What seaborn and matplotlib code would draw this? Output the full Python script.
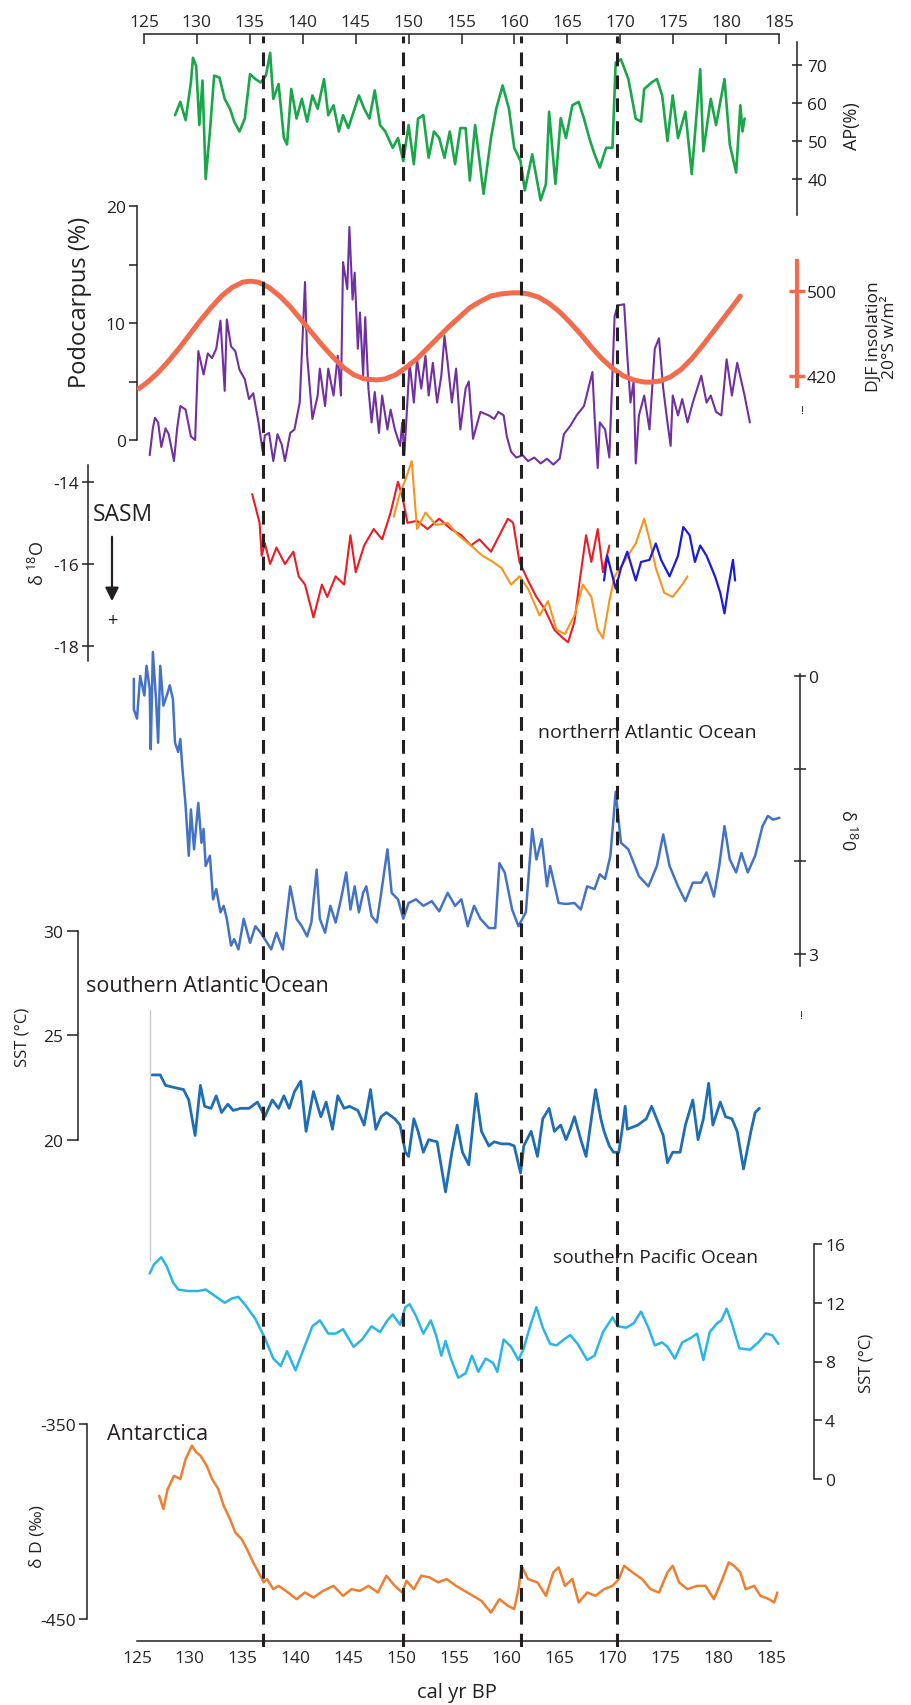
import matplotlib
matplotlib.use("Agg")
import matplotlib.pyplot as plt
import seaborn as sns

# ---- data (age in ka, "cal yr BP" axis) ----
events = [136.9, 150.2, 161.3, 170.4]

ap_green = [(128.6, 56.8), (129.1, 60.3), (129.6, 55.5), (130.1, 65.4), (130.3, 71.9), (130.6, 69.7),
            (130.9, 54.2), (131.2, 65.9), (131.5, 40.0), (131.9, 52.5), (132.3, 67.2), (132.8, 66.7),
            (133.3, 61.1), (133.8, 58.5), (134.2, 55.1), (134.7, 52.5), (135.2, 55.9), (135.7, 67.6),
            (136.2, 66.3), (136.7, 65.4), (137.2, 67.2), (137.6, 73.2), (137.9, 61.1), (138.4, 65.0),
            (138.9, 50.8), (139.2, 49.1), (139.6, 63.7), (140.1, 55.9), (140.6, 61.1), (141.1, 55.1),
            (141.6, 62.0), (142.1, 58.5), (142.7, 66.3), (143.1, 56.8), (143.6, 59.4), (144.1, 52.5),
            (144.5, 56.8), (145.0, 53.4), (145.5, 57.7), (146.0, 62.0), (146.5, 58.5), (147.0, 55.9),
            (147.5, 63.3), (148.0, 54.2), (148.5, 52.5), (149.2, 48.2), (149.7, 50.8), (150.2, 44.7),
            (150.7, 54.2), (151.2, 43.9), (151.6, 55.9), (152.1, 56.8), (152.6, 45.6), (153.1, 52.5),
            (153.6, 50.8), (154.1, 45.6), (154.6, 52.5), (155.1, 43.9), (155.6, 53.4), (156.1, 53.4),
            (156.5, 39.6), (157.0, 54.2), (157.8, 36.1), (158.5, 50.8), (159.0, 58.5), (159.6, 64.6),
            (160.2, 58.5), (160.7, 48.2), (161.3, 44.7), (161.7, 37.0), (162.4, 46.5), (163.2, 34.4),
            (163.7, 38.7), (164.0, 57.7), (164.6, 38.7), (165.1, 56.0), (165.6, 50.8), (166.2, 59.4),
            (166.8, 60.3), (167.3, 55.9), (167.8, 50.8), (168.3, 46.5), (168.8, 43.0), (169.4, 48.2),
            (170.0, 48.2), (170.3, 70.6), (170.8, 71.5), (171.5, 66.3), (172.2, 55.9), (172.7, 55.1),
            (173.0, 63.7), (173.7, 65.4), (174.2, 66.3), (174.7, 62.0), (175.2, 50.0), (175.7, 62.0),
            (176.2, 50.8), (176.9, 57.7), (177.5, 41.3), (178.3, 68.9), (178.6, 47.3), (179.3, 61.1),
            (179.8, 54.2), (180.6, 66.3), (181.1, 49.1), (181.7, 41.7), (182.1, 59.4), (182.3, 52.5),
            (182.5, 55.9)]

podocarpus = [(126.2, -1.3), (126.5, 1.0), (126.7, 1.9), (127.0, 1.5), (127.3, -0.6), (127.7, 1.0),
              (128.0, 0.5), (128.5, -1.8), (128.8, 1.0), (129.1, 2.9), (129.6, 2.6), (130.1, 0.3),
              (130.5, 0.0), (130.8, 7.6), (131.3, 5.6), (131.7, 7.4), (132.1, 7.0), (132.5, 7.8),
              (132.9, 10.2), (133.3, 4.2), (133.5, 10.3), (133.9, 8.0), (134.3, 7.6), (134.7, 6.0),
              (135.2, 5.2), (135.6, 3.5), (136.0, 4.0), (136.5, 1.5), (136.9, -1.0), (137.1, 0.4),
              (137.5, 0.6), (137.9, -1.8), (138.3, 0.5), (138.7, -0.4), (139.0, -1.8), (139.5, 0.6),
              (139.9, 0.9), (140.4, 3.2), (140.9, 13.5), (141.1, 7.2), (141.6, 1.8), (142.1, 3.8),
              (142.3, 6.1), (142.8, 2.9), (143.1, 6.1), (143.6, 3.8), (144.0, 7.2), (144.3, 3.8),
              (144.5, 15.2), (144.9, 12.9), (145.1, 18.2), (145.4, 12.0), (145.6, 14.3), (145.9, 7.8),
              (146.1, 10.9), (146.4, 5.5), (146.6, 10.5), (146.9, 4.4), (147.2, 1.5), (147.5, 4.1),
              (147.9, 0.6), (148.2, 3.8), (148.7, 0.9), (149.0, 2.6), (149.4, 0.9), (149.9, -0.5),
              (150.1, 1.5), (150.3, -1.3), (150.8, 6.6), (151.2, 3.2), (151.5, 6.9), (151.9, 4.4),
              (152.3, 7.2), (152.6, 3.8), (153.0, 6.6), (153.4, 3.2), (153.8, 5.5), (154.1, 8.9),
              (154.4, 6.6), (154.8, 3.2), (155.2, 6.1), (155.6, 0.9), (156.1, 4.4), (156.4, 5.0),
              (156.8, 0.1), (157.5, 2.4), (158.3, 2.1), (158.8, 1.8), (159.2, 2.4), (159.7, 2.1),
              (160.0, 0.3), (160.4, -1.0), (160.9, -1.5), (161.5, -1.3), (162.0, -1.8), (162.6, -1.5),
              (163.2, -2.0), (163.8, -1.6), (164.4, -2.1), (165.0, -1.6), (165.4, 0.5), (166.0, 1.2),
              (166.6, 2.1), (167.3, 2.9), (168.1, 5.8), (168.3, 2.1), (168.6, -2.4), (168.8, 1.5),
              (169.3, 0.9), (169.7, -1.5), (170.2, 10.6), (170.5, 11.5), (171.1, 11.6), (171.4, 7.2),
              (171.7, 3.2), (172.0, 5.0), (172.2, -2.0), (172.5, 2.1), (173.0, 3.8), (173.5, 0.9),
              (174.0, 7.8), (174.4, 8.7), (174.8, 4.4), (175.2, 1.5), (175.5, -0.5), (175.7, 3.8),
              (176.2, 2.1), (176.6, 3.5), (177.1, 1.5), (177.6, 3.2), (178.4, 5.5), (178.9, 3.2),
              (179.3, 3.8), (179.8, 2.4), (180.3, 2.1), (180.8, 6.9), (181.3, 3.8), (181.8, 6.6),
              (182.5, 3.8), (183.0, 1.5)]

insolation = [(125.2, 408), (126.0, 414), (127.0, 423), (128.0, 434), (129.0, 446), (130.0, 459),
              (131.0, 472), (132.0, 484), (133.0, 495), (134.0, 503), (135.0, 508), (135.7, 509),
              (136.5, 508), (137.5, 503), (138.5, 495), (139.5, 485), (140.5, 473), (141.5, 461),
              (142.5, 449), (143.5, 438), (144.5, 428), (145.5, 421), (146.5, 417), (147.7, 416),
              (148.5, 417), (149.5, 421), (150.5, 428), (151.5, 436), (152.5, 446), (153.5, 456),
              (154.5, 466), (155.5, 475), (156.5, 484), (157.5, 490), (158.5, 495), (159.5, 497),
              (160.5, 498), (161.3, 498), (162.0, 497), (163.0, 494), (164.0, 488), (165.0, 480),
              (166.0, 470), (167.0, 459), (168.0, 447), (169.0, 436), (170.0, 427), (171.0, 420),
              (172.0, 416), (173.0, 414), (173.5, 414), (174.5, 415), (175.5, 419), (176.5, 426),
              (177.5, 436), (178.5, 448), (179.5, 461), (180.5, 474), (181.5, 487), (182.1, 495)]

sasm_red = [(135.9, -14.3), (136.6, -15.0), (136.8, -15.8), (137.1, -15.5), (137.6, -16.0), (138.2, -15.6),
            (139.0, -16.0), (139.8, -15.7), (140.3, -16.3), (140.9, -16.5), (141.7, -17.3), (142.5, -16.5),
            (143.0, -16.8), (143.8, -16.3), (144.6, -16.5), (145.2, -15.3), (145.7, -16.2), (146.5, -15.55),
            (147.4, -15.15), (148.2, -15.4), (149.0, -14.75), (149.7, -14.0), (150.1, -14.35), (150.6, -15.0),
            (151.5, -14.95), (152.5, -15.15), (153.6, -14.9), (154.7, -15.15), (155.7, -15.3), (156.6, -15.55),
            (157.4, -15.4), (158.5, -15.7), (159.5, -15.2), (160.1, -14.9), (160.6, -15.0), (161.2, -15.95),
            (162.0, -16.4), (162.8, -16.8), (163.6, -17.1), (164.5, -17.6), (165.3, -17.8), (165.8, -17.9),
            (166.4, -17.4), (166.9, -16.4), (167.5, -15.3), (168.0, -15.95), (168.6, -15.15), (169.1, -16.2),
            (169.7, -15.55)]

sasm_orange = [(149.3, -14.85), (149.8, -14.35), (150.4, -13.95), (151.0, -13.5), (151.5, -15.15),
               (152.3, -14.75), (153.3, -15.05), (154.4, -15.0), (155.4, -15.3), (156.6, -15.55),
               (157.7, -15.8), (158.7, -15.95), (159.5, -16.1), (160.4, -16.5), (161.2, -16.3),
               (162.0, -16.6), (163.1, -17.25), (163.9, -16.9), (164.7, -17.6), (165.5, -17.7),
               (166.4, -17.25), (167.2, -16.5), (168.0, -16.8), (168.6, -17.6), (169.1, -17.8),
               (169.7, -16.9), (170.2, -16.3), (171.1, -15.95), (172.2, -15.5), (173.0, -14.9),
               (173.5, -15.4), (174.1, -16.1), (174.9, -16.7), (175.7, -16.8), (176.6, -16.5),
               (177.1, -16.3)]

sasm_blue = [(169.2, -16.4), (169.5, -15.8), (170.3, -16.6), (170.8, -16.1), (171.4, -15.7), (172.2, -16.4),
             (172.7, -15.95), (173.5, -15.9), (174.1, -15.5), (174.6, -15.9), (175.4, -16.3), (176.2, -15.8),
             (176.7, -15.1), (177.3, -15.3), (177.8, -15.95), (178.3, -15.55), (178.9, -15.8), (179.7, -16.3),
             (180.2, -16.7), (180.6, -17.2), (181.0, -16.5), (181.4, -15.9), (181.6, -16.4)]

north_atlantic = [(124.7, 0.03), (124.7, 0.36), (125.0, 0.46), (125.3, 0.0), (125.7, 0.21), (125.9, -0.11),
                  (126.2, 0.14), (126.3, 0.79), (126.5, -0.26), (126.8, 0.25), (127.0, 0.72), (127.2, -0.11),
                  (127.5, 0.32), (127.9, 0.18), (128.1, 0.1), (128.4, 0.25), (128.6, 0.72), (128.9, 0.82),
                  (129.1, 0.68), (129.3, 1.0), (129.6, 1.4), (129.9, 1.94), (130.1, 1.44), (130.4, 1.87),
                  (130.8, 1.37), (131.1, 1.8), (131.3, 1.65), (131.5, 2.05), (131.9, 1.94), (132.2, 2.41),
                  (132.5, 2.3), (132.9, 2.55), (133.2, 2.48), (133.5, 2.62), (133.9, 2.91), (134.2, 2.84),
                  (134.6, 2.95), (135.1, 2.62), (135.7, 2.88), (136.2, 2.7), (136.7, 2.77), (137.1, 2.84),
                  (137.7, 2.95), (138.2, 2.77), (138.8, 2.95), (139.5, 2.27), (140.1, 2.62), (140.6, 2.7),
                  (141.1, 2.81), (141.5, 2.66), (142.0, 2.09), (142.3, 2.62), (142.8, 2.77), (143.3, 2.48),
                  (143.8, 2.66), (144.3, 2.41), (144.8, 2.12), (145.2, 2.52), (145.6, 2.27), (146.0, 2.55),
                  (146.4, 2.34), (146.7, 2.27), (147.2, 2.59), (147.7, 2.66), (148.2, 2.27), (148.7, 1.87),
                  (149.1, 2.34), (149.7, 2.41), (150.2, 2.62), (150.7, 2.45), (151.4, 2.41), (152.1, 2.48),
                  (152.9, 2.43), (153.6, 2.54), (154.4, 2.34), (155.1, 2.48), (155.7, 2.41), (156.3, 2.7),
                  (156.9, 2.48), (157.5, 2.62), (158.3, 2.72), (158.9, 2.72), (159.3, 2.02), (159.8, 2.12),
                  (160.5, 2.52), (161.1, 2.7), (161.8, 2.55), (162.4, 1.65), (162.8, 1.98), (163.3, 1.76),
                  (163.8, 2.27), (164.1, 2.05), (164.9, 2.45), (165.6, 2.46), (166.4, 2.45), (167.0, 2.52),
                  (167.6, 2.27), (168.3, 2.3), (168.8, 2.14), (169.3, 2.19), (169.8, 1.94), (170.3, 1.25),
                  (170.8, 1.8), (171.5, 1.87), (172.5, 2.16), (173.4, 2.27), (174.2, 2.05), (174.8, 1.71),
                  (175.4, 2.05), (176.2, 2.27), (176.9, 2.43), (177.6, 2.23), (178.4, 2.23), (178.9, 2.12),
                  (179.6, 2.38), (180.1, 2.05), (180.6, 1.62), (181.1, 1.98), (181.7, 2.12), (182.2, 1.91),
                  (182.8, 2.12), (183.5, 1.94), (184.2, 1.62), (184.7, 1.51), (185.2, 1.55), (185.8, 1.53)]

south_atlantic = [(126.4, 23.1), (127.2, 23.1), (127.7, 22.6), (128.5, 22.5), (129.4, 22.4), (129.9, 21.9),
                  (130.5, 20.2), (131.0, 22.6), (131.4, 21.6), (132.0, 21.5), (132.5, 22.1), (133.0, 21.3),
                  (133.6, 21.7), (134.1, 21.4), (134.8, 21.5), (135.6, 21.5), (136.4, 21.8), (137.1, 21.1),
                  (137.8, 21.9), (138.4, 21.5), (138.9, 22.1), (139.4, 21.5), (139.9, 22.3), (140.5, 22.8),
                  (141.0, 20.4), (141.7, 22.3), (142.4, 21.1), (142.9, 21.8), (143.5, 20.5), (144.0, 22.1),
                  (144.6, 21.5), (145.1, 21.6), (145.9, 21.4), (146.5, 20.7), (147.1, 22.4), (147.6, 20.5),
                  (148.1, 21.1), (148.6, 21.3), (149.4, 21.0), (149.9, 20.7), (150.4, 19.4), (150.7, 19.2),
                  (151.2, 21.0), (151.6, 20.4), (152.1, 19.4), (152.6, 20.0), (153.4, 19.9), (154.2, 17.5),
                  (154.8, 19.4), (155.3, 20.7), (155.8, 19.4), (156.4, 18.8), (157.1, 22.2), (157.6, 20.4),
                  (158.3, 19.7), (158.8, 19.9), (159.5, 19.8), (160.2, 19.8), (160.7, 19.7), (161.3, 18.4),
                  (161.6, 19.7), (162.3, 20.4), (162.9, 19.2), (163.4, 21.0), (164.0, 21.5), (164.5, 20.4),
                  (165.1, 20.7), (165.6, 20.0), (166.0, 20.5), (166.4, 21.1), (167.0, 20.0), (167.5, 19.2),
                  (168.0, 21.0), (168.4, 22.4), (168.9, 21.0), (169.2, 20.4), (169.7, 19.7), (170.1, 19.4),
                  (170.6, 19.4), (171.0, 20.8), (171.2, 21.6), (171.4, 20.5), (172.4, 20.7), (173.2, 21.0),
                  (173.7, 21.6), (174.1, 21.1), (174.8, 20.2), (175.2, 18.9), (175.7, 19.4), (176.4, 19.4),
                  (176.9, 20.7), (177.6, 21.9), (178.1, 20.0), (178.6, 21.0), (179.1, 22.7), (179.5, 20.7),
                  (180.2, 21.8), (180.7, 21.1), (181.3, 21.0), (181.8, 20.4), (182.4, 18.6), (183.1, 20.4),
                  (183.5, 21.3), (183.9, 21.5)]

south_pacific = [(126.2, 14.0), (126.6, 14.6), (127.3, 15.1), (127.8, 14.5), (128.4, 13.4), (128.9, 12.9),
                 (129.8, 12.8), (130.8, 12.8), (131.5, 12.9), (132.3, 12.5), (133.3, 12.0), (134.0, 12.3),
                 (134.6, 12.4), (135.3, 11.8), (136.2, 10.9), (137.1, 9.6), (137.9, 8.2), (138.6, 7.7),
                 (139.2, 8.7), (140.0, 7.4), (140.9, 9.1), (141.6, 10.4), (142.3, 10.8), (143.1, 9.9),
                 (143.8, 9.9), (144.5, 10.2), (145.5, 9.0), (146.3, 9.5), (147.2, 10.4), (148.0, 10.0),
                 (148.7, 10.8), (149.2, 11.2), (149.5, 10.9), (149.9, 10.5), (150.4, 11.7), (150.8, 11.9),
                 (151.4, 11.1), (152.1, 9.9), (152.8, 10.8), (153.3, 9.8), (153.8, 8.4), (154.2, 9.4),
                 (154.7, 8.2), (155.4, 6.9), (156.1, 7.2), (156.7, 8.4), (157.3, 7.3), (158.0, 8.2),
                 (158.7, 7.9), (159.1, 7.3), (159.7, 9.5), (160.4, 9.0), (161.1, 8.1), (161.6, 8.9),
                 (162.2, 10.4), (162.8, 11.7), (163.4, 10.3), (164.1, 9.2), (164.7, 9.1), (165.4, 9.5),
                 (166.0, 9.8), (166.7, 9.2), (167.6, 8.1), (168.3, 8.4), (169.1, 10.0), (170.0, 11.0),
                 (170.5, 10.4), (171.3, 10.3), (172.0, 10.6), (172.7, 11.4), (173.4, 10.3), (174.0, 9.1),
                 (174.7, 9.3), (175.2, 9.0), (175.9, 8.2), (176.6, 9.3), (177.4, 9.6), (178.0, 9.9),
                 (178.6, 8.1), (179.2, 10.0), (179.9, 10.6), (180.3, 10.8), (180.8, 11.6), (181.3, 10.6),
                 (182.0, 8.9), (183.0, 8.8), (183.8, 9.3), (184.5, 9.9), (185.1, 9.8), (185.7, 9.2)]

antarctica = [(127.1, -386.8), (127.5, -393.6), (127.9, -383.4), (128.5, -376.6), (129.1, -378.2),
              (129.6, -368.0), (130.2, -361.1), (130.6, -364.5), (131.0, -366.2), (131.6, -371.4),
              (132.1, -378.2), (132.7, -383.4), (133.2, -391.9), (133.8, -398.7), (134.3, -405.6),
              (134.9, -409.0), (135.4, -414.1), (136.0, -421.0), (136.5, -426.1), (137.0, -431.2),
              (137.3, -429.5), (137.9, -434.7), (138.4, -433.0), (139.3, -436.4), (140.1, -439.8),
              (140.9, -436.4), (141.7, -439.0), (142.6, -435.6), (143.6, -433.0), (144.5, -438.1),
              (145.3, -434.7), (146.1, -435.6), (146.9, -433.0), (147.8, -436.4), (148.6, -427.8),
              (149.4, -433.0), (150.1, -436.4), (150.5, -430.4), (151.2, -434.7), (151.9, -427.8),
              (152.7, -428.7), (153.5, -431.2), (154.3, -429.5), (155.2, -433.0), (156.0, -435.6),
              (156.8, -438.1), (157.6, -440.7), (158.5, -446.7), (159.3, -439.8), (160.1, -443.2),
              (160.7, -444.9), (161.1, -434.7), (161.4, -422.7), (162.0, -429.5), (162.9, -431.2),
              (163.7, -438.1), (164.4, -426.1), (164.9, -423.5), (165.5, -433.0), (166.2, -429.5),
              (166.8, -441.5), (167.6, -436.4), (168.4, -438.1), (169.2, -434.7), (170.0, -433.0),
              (170.6, -429.5), (171.1, -422.7), (171.9, -426.1), (172.8, -429.5), (173.6, -434.7),
              (174.4, -436.4), (175.2, -426.1), (175.7, -422.7), (176.3, -431.2), (177.1, -434.7),
              (178.0, -433.0), (178.8, -433.0), (179.6, -439.8), (180.4, -429.5), (181.0, -421.0),
              (181.5, -422.7), (182.1, -426.1), (182.6, -434.7), (183.4, -433.0), (184.0, -438.1),
              (184.8, -439.8), (185.3, -441.5), (185.6, -436.4)]

age_ticks = [125, 130, 135, 140, 145, 150, 155, 160, 165, 170, 175, 180, 185]

# ---- layout (pixels of the 912 x 1706 figure) ----
W, H = 912, 1706
X0, X1 = 137, 771          # pixel span of 125 .. 185
INK = '#231f20'
TICK_FS = 12.5

sns.set_style("white")
plt.rcParams['font.family'] = ['Open Sans', 'DejaVu Sans']
plt.rcParams['mathtext.fontset'] = 'custom'
plt.rcParams['mathtext.rm'] = 'Open Sans'
plt.rcParams['mathtext.it'] = 'Open Sans:italic'

fig = plt.figure(figsize=(W / 100, H / 100), dpi=100)


def panel(y_top, v_top, y_bot, v_bot):
    ax = fig.add_axes([X0 / W, 1 - y_bot / H, (X1 - X0) / W, (y_bot - y_top) / H])
    ax.patch.set_visible(False)
    for s in ax.spines.values():
        s.set_visible(False)
    ax._lims = (v_bot, v_top)
    return ax


def finish(ax):
    ax.set_xlim(125, 185)
    ax.set_ylim(*ax._lims)
    ax.set_xticks([])
    ax.set_xlabel('')
    ax.set_ylabel('')


def yaxis(ax, side, x_px, bounds, ticks, labels, direction, length, pad,
          color=INK, lw=1.1, twidth=1.1):
    sp = ax.spines[side]
    sp.set_visible(True)
    sp.set_position(('axes', (x_px - X0) / (X1 - X0)))
    sp.set_bounds(*bounds)
    sp.set_color(color)
    sp.set_linewidth(lw)
    ax.set_yticks(ticks, labels)
    left = side == 'left'
    ax.tick_params(axis='y', left=left, right=not left, labelleft=left, labelright=not left,
                   direction=direction, length=length, width=twidth, color=color,
                   pad=pad, labelsize=TICK_FS, labelcolor=INK)


def line(ax, data, color, lw):
    xs = [p[0] for p in data]
    ys = [p[1] for p in data]
    sns.lineplot(x=xs, y=ys, ax=ax, color=color, lw=lw, sort=False,
                 estimator=None, clip_on=False)


def ftext(x, y, s, **kw):
    kw.setdefault('color', INK)
    fig.text(x / W, 1 - y / H, s, **kw)


# AP (%)
ax_ap = panel(66, 70, 180, 40)
line(ax_ap, ap_green, '#1aa64a', 1.9)
finish(ax_ap)
yaxis(ax_ap, 'right', 797, (30.5, 76.0), [40, 50, 60, 70], ['40', '50', '60', '70'],
      'inout', 7, 4)

# Podocarpus + insolation
ax_po = panel(207, 20, 441, 0)
line(ax_po, podocarpus, '#7030a0', 1.5)
finish(ax_po)
yaxis(ax_po, 'left', 137, (0, 20), [0, 5, 10, 15, 20], ['0', '', '10', '', '20'], 'out', 6, 2)

ax_in = panel(207, 579.7, 441, 359.5)
line(ax_in, insolation, '#f26b4c', 3.6)
finish(ax_in)
yaxis(ax_in, 'right', 797, (410.3, 527.9), [420, 500], ['420', '500'], 'inout', 12, 1,
      color='#f26b4c', lw=3.0, twidth=2.5)

# SASM speleothem d18O
ax_sa = panel(482.7, -14, 647.3, -18)
line(ax_sa, sasm_red, '#ec1c24', 1.5)
line(ax_sa, sasm_orange, '#f7941d', 1.5)
line(ax_sa, sasm_blue, '#1c1cd6', 1.6)
finish(ax_sa)
yaxis(ax_sa, 'left', 87.7, (-18.35, -13.6), [-18, -16, -14], ['-18', '-16', '-14'],
      'inout', 8, 2)

# northern Atlantic d18O (inverted)
ax_na = panel(677, 0, 955, 3)
line(ax_na, north_atlantic, '#4472c4', 1.8)
finish(ax_na)
yaxis(ax_na, 'right', 800, (-0.02, 3.13), [0, 1, 2, 3], ['0', '', '', '3'], 'inout', 8, 2)

# southern Atlantic SST
ax_sat = panel(931.7, 30, 1140.7, 20)
line(ax_sat, south_atlantic, '#1f6eb5', 2.0)
ax_sat.axvline(126.2, ymin=-0.58, ymax=0.62, color='#c8c8c8', lw=1.0, clip_on=False)
finish(ax_sat)
yaxis(ax_sat, 'left', 78.5, (20, 30), [20, 25, 30], ['20', '25', '30'], 'out', 8, 3)

# southern Pacific SST
ax_sp = panel(1245, 16, 1480, 0)
line(ax_sp, south_pacific, '#29b6e6', 1.8)
finish(ax_sp)
yaxis(ax_sp, 'right', 814, (0, 16), [0, 4, 8, 12, 16], ['0', '4', '8', '12', '16'], 'out', 6, 2)

# Antarctica dD
ax_an = panel(1425, -350, 1620, -450)
line(ax_an, antarctica, '#f07e2e', 1.8)
finish(ax_an)
yaxis(ax_an, 'left', 87.2, (-450, -350), [-450, -350], ['-450', '-350'], 'out', 6, 2)

# top and bottom age axes
ax_top = fig.add_axes([144 / W, 1 - 60 / H, (779 - 144) / W, 25 / H])
ax_top.patch.set_visible(False)
for k, s in ax_top.spines.items():
    s.set_visible(k == 'top')
ax_top.spines['top'].set_color(INK)
ax_top.spines['top'].set_linewidth(1.1)
ax_top.set_xlim(125, 185)
ax_top.set_xticks(age_ticks, [str(a) for a in age_ticks])
ax_top.set_yticks([])
ax_top.tick_params(axis='x', top=True, bottom=False, labeltop=True, labelbottom=False,
                   direction='in', length=7, width=1.1, color=INK, pad=3, labelsize=TICK_FS)

ax_bot = fig.add_axes([X0 / W, 1 - 1641.7 / H, (X1 - X0) / W, 30 / H])
ax_bot.patch.set_visible(False)
for k, s in ax_bot.spines.items():
    s.set_visible(k == 'bottom')
ax_bot.spines['bottom'].set_color(INK)
ax_bot.spines['bottom'].set_linewidth(1.1)
ax_bot.set_xlim(125, 185)
ax_bot.set_xticks(age_ticks, [str(a) for a in age_ticks])
ax_bot.set_yticks([])
ax_bot.tick_params(axis='x', direction='in', length=7, width=1.1, color=INK, pad=7,
                   labelsize=TICK_FS)

# dashed event lines across all panels
ax_ev = fig.add_axes([X0 / W, 1 - 1648 / H, (X1 - X0) / W, (1648 - 37) / H])
ax_ev.patch.set_visible(False)
ax_ev.set_axis_off()
ax_ev.set_xlim(125, 185)
ax_ev.set_ylim(0, 1)
for e in events:
    ax_ev.axvline(e, color=INK, lw=2.2, linestyle=(0, (4.5, 3.0)))

# overlay for text and the SASM arrow
ax_ov = fig.add_axes([0, 0, 1, 1])
ax_ov.set_axis_off()
ax_ov.set_xlim(0, W)
ax_ov.set_ylim(H, 0)
ax_ov.annotate('', xy=(112, 605), xytext=(112, 535),
               arrowprops=dict(arrowstyle='-|>', lw=1.6, color=INK, mutation_scale=20))

ftext(852, 126, 'AP(%)', rotation=90, ha='center', va='center', fontsize=13)
ftext(882, 337, 'DJF insolation\n20°S w/m²', rotation=90, ha='center', va='center',
      fontsize=12.5, linespacing=1.0, multialignment='center')
ftext(80, 302, 'Podocarpus (%)', rotation=90, ha='center', va='center', fontsize=17)
ftext(802, 412, '!', ha='center', va='center', fontsize=8)
ftext(801, 1017, '!', ha='center', va='center', fontsize=8)
ftext(93, 515, 'SASM', ha='left', va='center', fontsize=16.5)
ftext(112, 621, '+', ha='center', va='center', fontsize=13)
ftext(38, 563, r'δ $^{18}$O', rotation=90, ha='center', va='center', fontsize=13)
ftext(538, 733, 'northern Atlantic Ocean', ha='left', va='center', fontsize=14)
ftext(847, 830, r'δ $^{18}$0', rotation=270, ha='center', va='center', fontsize=13)
ftext(86, 987, 'southern Atlantic Ocean', ha='left', va='center', fontsize=15.5)
ftext(23, 1037, 'SST (°C)', rotation=90, ha='center', va='center', fontsize=12)
ftext(553, 1258, 'southern Pacific Ocean', ha='left', va='center', fontsize=13.8)
ftext(867, 1363, 'SST (°C)', rotation=90, ha='center', va='center', fontsize=12)
ftext(107, 1435, 'Antarctica', ha='left', va='center', fontsize=15.5)
ftext(38, 1537, 'δ D (‰)', rotation=90, ha='center', va='center', fontsize=12.5)
ftext(457, 1693, 'cal yr BP', ha='center', va='center', fontsize=14.5)

fig.savefig('out.png', dpi=100)
